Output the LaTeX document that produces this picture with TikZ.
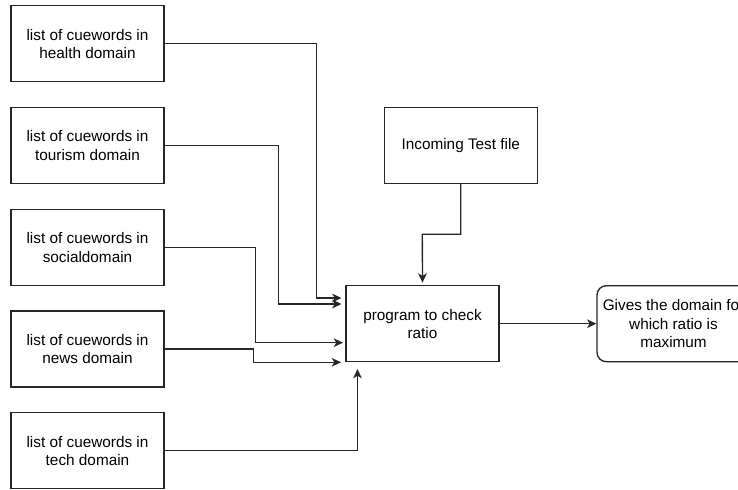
\documentclass[tikz,border=0pt]{standalone}
\usepackage{fontspec}
\setmainfont{Liberation Sans}
\usetikzlibrary{arrows.meta,positioning}

\begin{document}
\begin{tikzpicture}[
    x=0.75pt,
    y=-0.75pt,
    >={Stealth[length=7pt,width=6.5pt,inset=2pt]},
    font=\fontsize{11.5}{13.75}\selectfont,
    cuebox/.style={
        draw=black!85,
        line width=1pt,
        minimum width=114.75pt,
        minimum height=57pt,
        align=center,
        inner sep=2pt
    },
    resultbox/.style={
        cuebox,
        rounded corners=7pt
    },
    flow/.style={
        line width=1pt,
        draw=black!85,
        ->
    }
]

\path[use as bounding box,clip] (0,0) rectangle (738,489);

% ---------------------------------------------------------
% Cueword lists
% ---------------------------------------------------------

\node[cuebox] (health) at (87.5,43.7)
{list of cuewords in\\health domain};

\node[cuebox] (tourism) at (87.5,145.5)
{list of cuewords in\\tourism domain};

\node[cuebox] (social) at (87.5,247.5)
{list of cuewords in\\socialdomain};

\node[cuebox] (news) at (87.5,349)
{list of cuewords in\\news domain};

\node[cuebox] (tech) at (87.5,450.7)
{list of cuewords in\\tech domain};

% ---------------------------------------------------------
% Test file, program and result
% ---------------------------------------------------------

\node[cuebox] (incoming) at (460.8,145.3)
{Incoming Test file};

\node[cuebox] (prog) at (422.5,323.7)
{program to check\\ratio};

\node[resultbox] (result) at (673.5,323.7)
{Gives the domain for\\which ratio is\\maximum};

% arrow ends next to the program box
\coordinate (healthIn)  at (341.5,298);
\coordinate (tourismIn) at (341.5,304);
\coordinate (socialIn)  at (343,342.7);
\coordinate (newsIn)    at (341,362.3);
\coordinate (techIn)    at (357.5,369);

% ---------------------------------------------------------
% Connectors
% ---------------------------------------------------------

\draw[flow]
    (health.east) -| (316.7,298) -- (healthIn);

\draw[flow]
    (tourism.east) -| (278.7,304) -- (tourismIn);

\draw[flow]
    (social.east) -| (255.3,342.7) -- (socialIn);

\draw[flow]
    (news.east) -| (253.3,362.3) -- (newsIn);

\draw[flow]
    (tech.east) -| (techIn);

\draw[flow,shorten >=1.8pt]
    (incoming.south) |- (422.3,234.3) -- (prog.north);

\draw[flow]
    (prog.east) -- (result.west);

\end{tikzpicture}
\end{document}
